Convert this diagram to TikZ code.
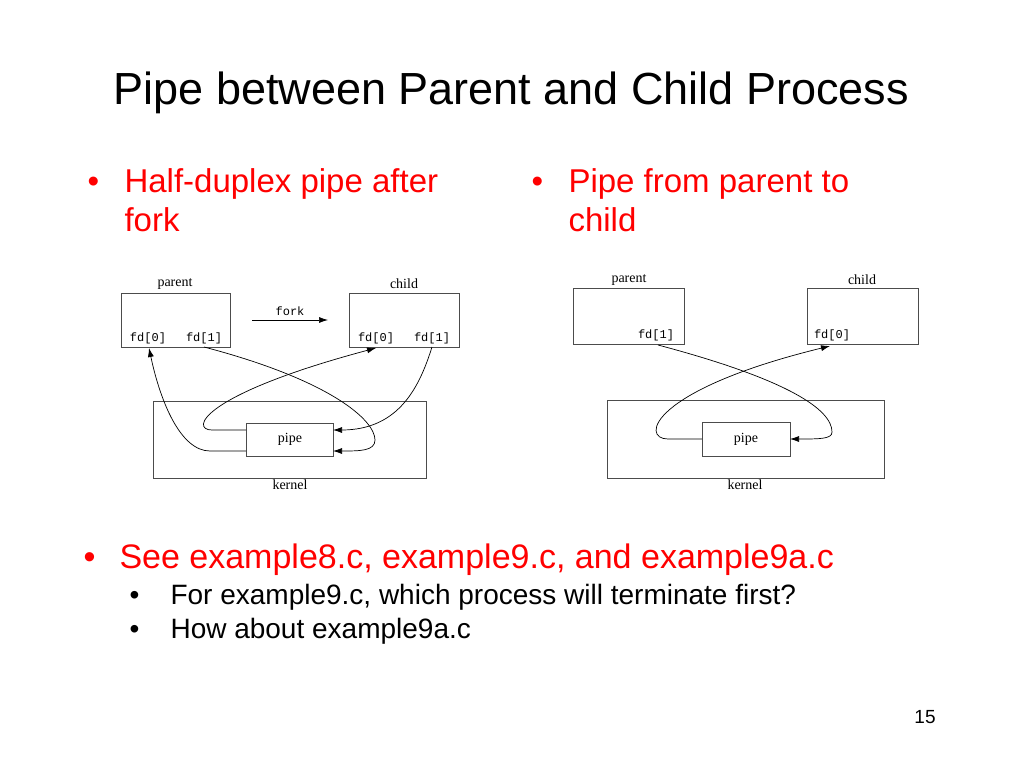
\documentclass[tikz,border=0pt]{standalone}
\usepackage{fontspec}
\setmainfont{Liberation Sans}
\newfontfamily\figfont{Liberation Serif}
\newfontfamily\codefont{Liberation Mono}
\usetikzlibrary{arrows.meta}
\tikzset{
  box/.style={draw=black!70, line width=0.7pt},
  lbl/.style={font=\figfont\fontsize{14}{16}\selectfont},
  fdtxt/.style={font=\codefont\fontsize{12}{14}\selectfont},
  arr/.style={-{Latex[length=9pt,width=6pt]}, line width=0.7pt},
  redtxt/.style={text=red, anchor=base west, font=\fontsize{33}{39}\selectfont},
  subtxt/.style={anchor=base west, font=\fontsize{28}{32}\selectfont}
}
\begin{document}
\begin{tikzpicture}[x=1pt,y=-1pt]
  \useasboundingbox (0,0) rectangle (1024,768);
  % title and bullets
  \node[anchor=base west, font=\fontsize{45}{52}\selectfont] (title) at (110,104) {Pipe between Parent and Child Process};
  \node[redtxt] (b1) at (84,192) {\textbullet};
  \node[redtxt] (t1a) at (121,192) {Half-duplex pipe after};
  \node[redtxt] (t1b) at (121,231) {fork};
  \node[redtxt] (b2) at (528,192) {\textbullet};
  \node[redtxt] (t2a) at (565,192) {Pipe from parent to};
  \node[redtxt] (t2b) at (565,231) {child};
  \node[redtxt, font=\fontsize{34}{39}\selectfont] (b3) at (80,568) {\textbullet};
  \node[redtxt, font=\fontsize{34}{39}\selectfont] (t3) at (116,568) {See example8.c, example9.c, and example9a.c};
  \node[subtxt] (b4) at (126,604) {\textbullet};
  \node[subtxt] (t4) at (167,604) {For example9.c, which process will terminate first?};
  \node[subtxt] (b5) at (126,638) {\textbullet};
  \node[subtxt] (t5) at (167,638) {How about example9a.c};
  \node[anchor=base, font=\fontsize{19}{22}\selectfont] (num) at (925,723) {15};

  % left: after fork
  \draw[box] (121,293) rectangle (230,347);
  \draw[box] (349,293) rectangle (459,347);
  \draw[box] (153,401) rectangle (426,478);
  \draw[box] (246,423) rectangle (333,456);
  \node[lbl] (lpar) at (175,284) {parent};
  \node[lbl] (lchi) at (404,284) {child};
  \node[lbl] (lker) at (290,485) {kernel};
  \node[lbl] (lpipe) at (290,439) {pipe};
  \node[fdtxt] (lp0) at (148,338) {fd[0]};
  \node[fdtxt] (lp1) at (204,338) {fd[1]};
  \node[fdtxt] (lc0) at (376,338) {fd[0]};
  \node[fdtxt] (lc1) at (432,338) {fd[1]};
  \node[fdtxt] (lfork) at (290,311) {fork};
  \coordinate (fa) at (252,320);
  \coordinate (fb) at (328,320);
  \draw[arr] (fa) -- (fb);
  \coordinate (lpl1) at (246,430);
  \coordinate (lpl2) at (246,451);
  \coordinate (lpr1) at (333,430);
  \coordinate (lpr2) at (333,451);
  \draw[arr] (lpl2) -- (210,451) .. controls (180,451) and (160,400) .. (149,348);
  \draw[arr] (lpl1) -- (212,430) .. controls (190,430) and (200,395) .. (376,348);
  \draw[arr] (204,347) .. controls (330,380) and (375,420) .. (375,440) .. controls (375,451) and (360,451) .. (lpr2);
  \draw[arr] (432,347) .. controls (420,385) and (400,430) .. (lpr1);

  % right: parent to child
  \draw[box] (573,288) rectangle (684,344);
  \draw[box] (807,288) rectangle (918,344);
  \draw[box] (607,400) rectangle (884,478);
  \draw[box] (702,422) rectangle (790,456);
  \node[lbl] (rpar) at (629,280) {parent};
  \node[lbl] (rchi) at (862,280) {child};
  \node[lbl] (rker) at (745,485) {kernel};
  \node[lbl] (rpipe) at (746,439) {pipe};
  \node[fdtxt] (rp1) at (656,335) {fd[1]};
  \node[fdtxt] (rc0) at (832,335) {fd[0]};
  \coordinate (rpl) at (702,439);
  \coordinate (rpr) at (790,439);
  \draw[arr] (rpl) -- (668,439) .. controls (640,439) and (650,390) .. (830,346);
  \draw[arr] (658,345) .. controls (790,380) and (832,410) .. (832,432) .. controls (832,439) and (820,439) .. (rpr);
\end{tikzpicture}
\end{document}
